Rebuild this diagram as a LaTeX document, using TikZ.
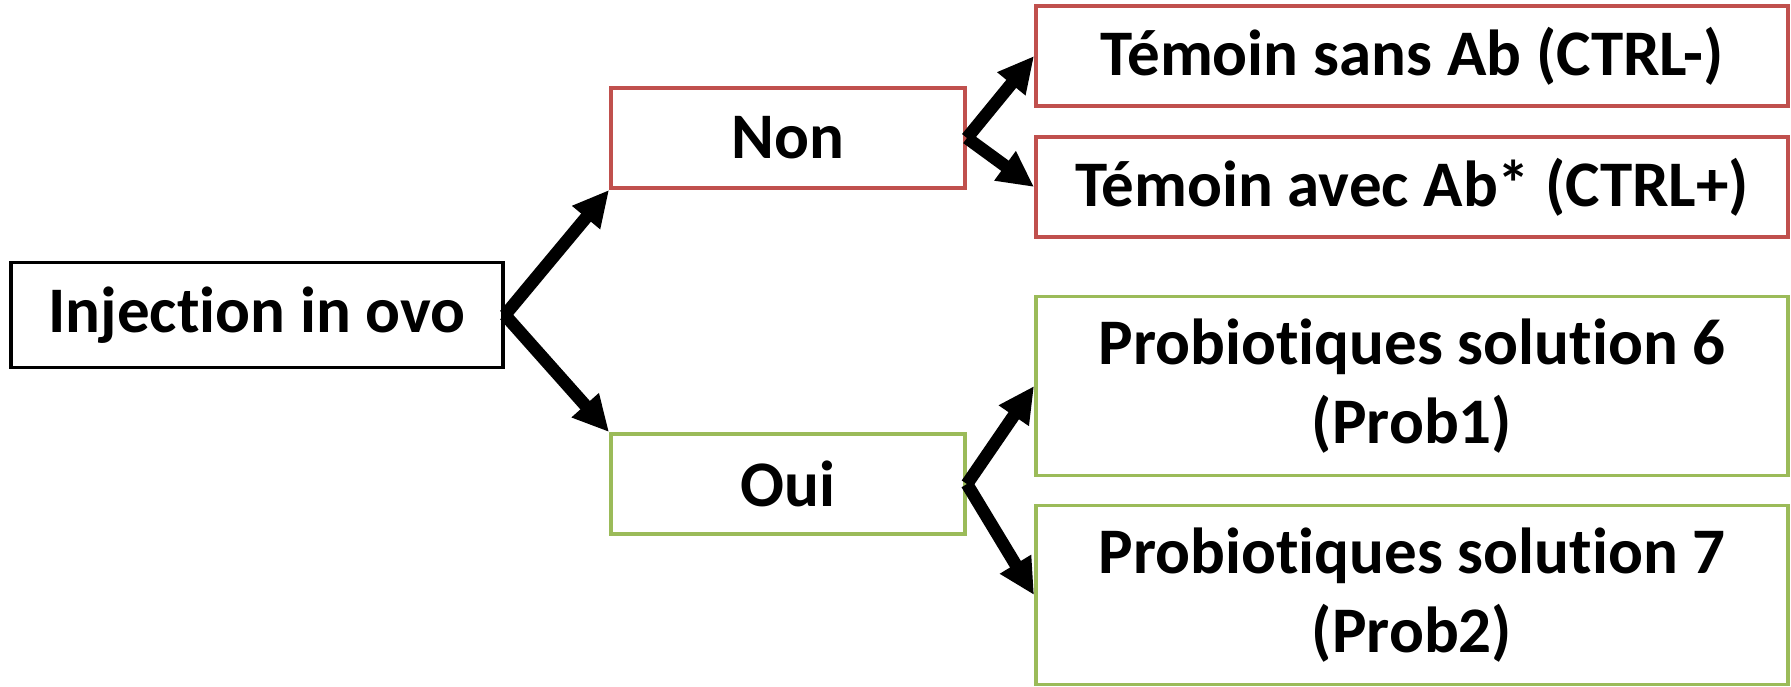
\documentclass[tikz,border=0pt]{standalone}
\usepackage{fontspec}
\setmainfont[RawFeature={-liga;-clig;-dlig;-calt}]{Carlito}
\usepackage{xcolor}
\usepackage{tikz}
\usetikzlibrary{arrows.meta}
\definecolor{redbox}{HTML}{C0504D}
\definecolor{greenbox}{HTML}{9BBB59}
\tikzstyle{start} = [rectangle, minimum width=4.92cm, minimum height=1.05cm, text centered, draw=black, line width=1.1pt, font=\fontsize{18.5}{22.7}\selectfont\bfseries]
\tikzstyle{choice} = [rectangle, minimum width=3.54cm, minimum height=1cm, text centered, line width=1.1pt, font=\fontsize{18.5}{22.7}\selectfont\bfseries]
\tikzstyle{group} = [rectangle, minimum width=7.52cm, minimum height=1cm, align=center, line width=1.1pt, font=\fontsize{18.5}{22.7}\selectfont\bfseries]
\tikzstyle{arrow} = [line width=3.6pt, -{Triangle[length=0.36cm, width=0.34cm]}]

\begin{document}
\begin{tikzpicture}
        \useasboundingbox (0,0) rectangle (17.91,-6.86);
        \node (inj) [start] at (2.57,-3.15) {Injection in ovo};
        \node (non) [choice, draw=redbox] at (7.88,-1.38) {Non};
        \node (oui) [choice, draw=greenbox] at (7.88,-4.84) {Oui};
        \node (sans) [group, draw=redbox] at (14.12,-0.56) {Témoin sans Ab (CTRL-)};
        \node (avec) [group, draw=redbox] at (14.12,-1.87) {Témoin avec Ab* (CTRL+)};
        \node (prob1) [group, draw=greenbox, minimum height=1.79cm] at (14.12,-3.86) {Probiotiques solution 6\\(Prob1)};
        \node (prob2) [group, draw=greenbox, minimum height=1.79cm] at (14.12,-5.95) {Probiotiques solution 7\\(Prob2)};

        \draw [arrow] (inj.east) -- (non.south west);
        \draw [arrow] (inj.east) -- (oui.north west);
        \draw [arrow] (non.east) -- (sans.west);
        \draw [arrow] (non.east) -- (avec.west);
        \draw [arrow] (oui.east) -- (prob1.west);
        \draw [arrow] (oui.east) -- (prob2.west);
\end{tikzpicture}
\end{document}
